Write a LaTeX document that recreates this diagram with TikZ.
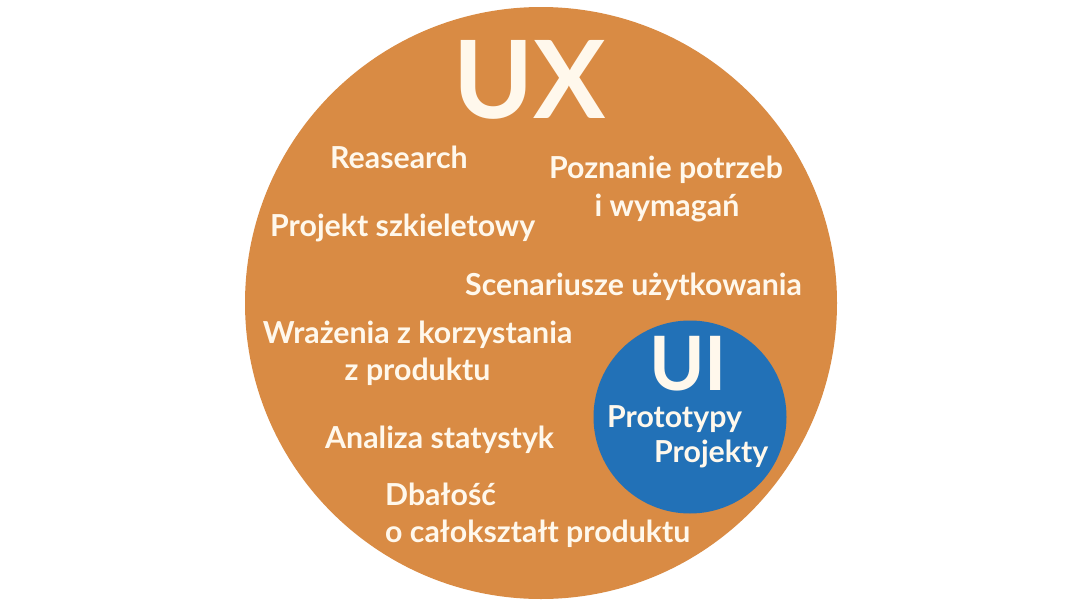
\documentclass[tikz,border=0pt]{standalone}
\usepackage{fontspec}
\setmainfont{Lato}
\begin{document}
\begin{tikzpicture}[x=1pt,y=-1pt,
  lbl/.style={text=txtc, font=\bfseries\fontsize{30.3}{36}\selectfont, inner sep=0pt},
  bigl/.style={text=txtc, font=\bfseries\fontsize{108}{112}\selectfont, inner sep=0pt}]
\definecolor{orangec}{HTML}{D98B44}
\definecolor{bluec}{HTML}{2271B7}
\definecolor{txtc}{HTML}{FFF8EC}
\useasboundingbox (0,0) rectangle (1080,608);
\fill[white] (0,0) rectangle (1080,608);
\node[circle, fill=orangec, minimum size=592pt, inner sep=0pt] (ux) at (541,303) {};
\node[circle, fill=bluec, minimum size=193pt, inner sep=0pt] (ui) at (690,417) {};
\node[bigl, anchor=base] (uxt) at (530,118) {UX};
\node[bigl, font=\bfseries\fontsize{75}{78}\selectfont, anchor=base] (uit) at (688,390) {UI};
\node[lbl, anchor=base west] (t1) at (330,168) {Reasearch};
\node[lbl, anchor=base] (t2a) at (666,178) {Poznanie potrzeb};
\node[lbl, anchor=base] (t2b) at (667,216) {i wymagań};
\node[lbl, anchor=base west] (t3) at (270,236) {Projekt szkieletowy};
\node[lbl, anchor=base west] (t4) at (465,295) {Scenariusze użytkowania};
\node[lbl, anchor=base] (t5a) at (417.5,343) {Wrażenia z korzystania};
\node[lbl, anchor=base] (t5b) at (417.5,380) {z produktu};
\node[lbl, anchor=base west] (t6) at (325,448) {Analiza statystyk};
\node[lbl, anchor=base west] (t7a) at (385,505) {Dbałość};
\node[lbl, anchor=base west] (t7b) at (385,542) {o całokształt produktu};
\node[lbl, anchor=base west] (p1) at (607,427) {Prototypy};
\node[lbl, anchor=base west] (p2) at (654,462) {Projekty};
\end{tikzpicture}
\end{document}
